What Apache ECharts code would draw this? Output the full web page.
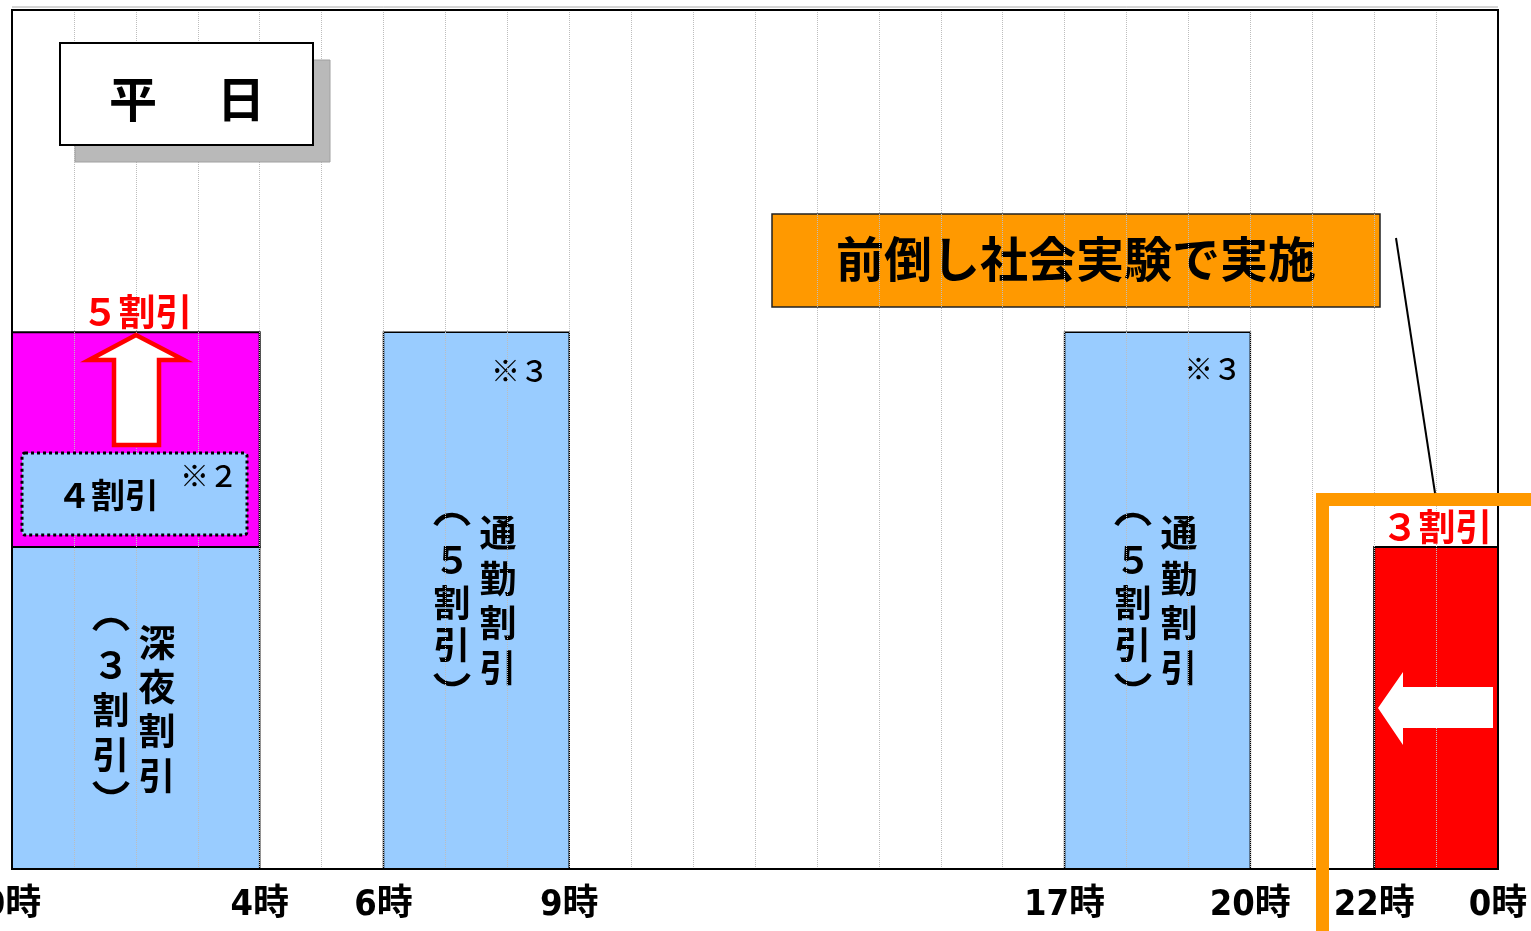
<!DOCTYPE html>
<html>
<head>
<meta charset="utf-8">
<script src="https://cdn.jsdelivr.net/npm/echarts@6/dist/echarts.min.js"></script>
<style>html,body{margin:0;padding:0;background:#fff;}#c{width:1531px;height:931px;}</style>
</head>
<body>
<div id="c"></div>
<script>
// ---- data ----
const tickHours = [0, 4, 6, 9, 17, 20, 22, 24];
const redTickHours = [0, 4, 22, 24];
// current discount periods (light blue)
const currentStart = [0, 6, 17];
const currentEnd = [4, 9, 20];
const currentRate = [30, 50, 50];
// expanded discount (magenta) 0-4h : 30% -> 50%
const expandStart = [0];
const expandEnd = [4];
const expandFrom = [30];
const expandTo = [50];
// advanced trial (red) 22-24h
const trialStart = [22];
const trialEnd = [24];
const trialRate = [30];

const rateMax = 80;

function rows(s, e, lo, hi) {
  return s.map((v, i) => [v, e[i], lo[i], hi[i]]);
}
const zeros = a => a.map(() => 0);

function renderRect(params, api) {
  const p0 = api.coord([api.value(0), api.value(3)]);
  const p1 = api.coord([api.value(1), api.value(2)]);
  return {
    type: 'rect',
    shape: { x: p0[0], y: p0[1], width: p1[0] - p0[0], height: p1[1] - p0[1] },
    style: api.style()
  };
}

const JP = "'Noto Sans CJK JP', 'Noto Sans', sans-serif";
const chart = echarts.init(document.getElementById('c'));

// vertical paren drawn as an arc: '(' -> opening on bottom (cap), ')' -> opening on top (cup)
function vparen(x, y, open) {
  const r = 19;
  if (open) {
    return { type: 'arc', z: 2, shape: { cx: x, cy: y + 12, r: r, startAngle: Math.PI * 1.16, endAngle: Math.PI * 1.84, clockwise: true },
      style: { stroke: '#000', lineWidth: 4.5, fill: null, lineCap: 'butt' } };
  }
  return { type: 'arc', z: 2, shape: { cx: x, cy: y - 12, r: r, startAngle: Math.PI * 0.16, endAngle: Math.PI * 0.84, clockwise: true },
    style: { stroke: '#000', lineWidth: 4.5, fill: null, lineCap: 'butt' } };
}

function vcol(x, ys, chars) {
  return chars.map((ch, i) => {
    if (ch === '(') return vparen(x, ys[i], true);
    if (ch === ')') return vparen(x, ys[i], false);
    return {
      type: 'text', z: 2, x: x, y: ys[i],
      style: { text: ch, font: 'bold 37px ' + JP, fill: '#000', align: 'center', verticalAlign: 'middle' }
    };
  });
}

const graphics = [
  // faint line above frame
  { type: 'line', z: 1, shape: { x1: 12, y1: 7, x2: 1498, y2: 7 }, style: { stroke: '#aaa', lineWidth: 1 } },
  // 平日 box
  { type: 'rect', z: 10, shape: { x: 75, y: 60, width: 255, height: 102 }, style: { fill: '#b9b9b9', stroke: '#a0a0a0', lineWidth: 1 } },
  { type: 'rect', z: 11, shape: { x: 60, y: 43, width: 253, height: 102 }, style: { fill: '#fff', stroke: '#000', lineWidth: 2 } },
  { type: 'text', z: 12, x: 133, y: 99, style: { text: '平', font: 'bold 48px ' + JP, fill: '#000', align: 'center', verticalAlign: 'middle' } },
  { type: 'text', z: 12, x: 241, y: 99, style: { text: '日', font: 'bold 48px ' + JP, fill: '#000', align: 'center', verticalAlign: 'middle' } },
  // orange note box
  { type: 'rect', z: 2, shape: { x: 772, y: 214, width: 608, height: 93 }, style: { fill: '#FF9900', stroke: '#222', lineWidth: 1.5 } },
  { type: 'text', z: 2, x: 1076, y: 259, style: { text: '前倒し社会実験で実施', font: 'bold 48px ' + JP, fill: '#000', align: 'center', verticalAlign: 'middle' } },
  // callout line
  { type: 'line', z: 10, shape: { x1: 1396, y1: 238, x2: 1435, y2: 493 }, style: { stroke: '#000', lineWidth: 2 } },
  // orange frame around 22-24
  { type: 'rect', z: 9, shape: { x: 1322.5, y: 499.5, width: 300, height: 600 }, style: { fill: null, stroke: '#FF9900', lineWidth: 13 } },
  // 5割引
  { type: 'text', z: 10, x: 137, y: 312, style: { text: '５割引', font: 'bold 37px ' + JP, fill: '#FF0000', align: 'center', verticalAlign: 'middle' } },
  // up arrow
  { type: 'polygon', z: 10, shape: { points: [[136, 335], [89, 360], [114, 360], [114, 445], [159, 445], [159, 360], [184, 360]] }, style: { fill: '#fff', stroke: '#FF0000', lineWidth: 4.5, lineJoin: 'miter' } },
  // 4割引 dotted box
  { type: 'rect', z: 10, shape: { x: 22, y: 453, width: 225, height: 82, r: 3 }, style: { fill: '#99CCFF', stroke: '#000', lineWidth: 3, lineDash: [3, 3] } },
  { type: 'text', z: 11, x: 108, y: 495, style: { text: '４割引', font: 'bold 34px ' + JP, fill: '#000', align: 'center', verticalAlign: 'middle' } },
  { type: 'text', z: 11, x: 209, y: 476, style: { text: '※２', font: '500 29px ' + JP, fill: '#000', align: 'center', verticalAlign: 'middle' } },
  // ※3 marks
  { type: 'text', z: 2, x: 520, y: 371, style: { text: '※３', font: '500 29px ' + JP, fill: '#000', align: 'center', verticalAlign: 'middle' } },
  { type: 'text', z: 2, x: 1213, y: 369, style: { text: '※３', font: '500 29px ' + JP, fill: '#000', align: 'center', verticalAlign: 'middle' } },
  // 3割引
  { type: 'text', z: 10, x: 1437, y: 527, style: { text: '３割引', font: 'bold 37px ' + JP, fill: '#FF0000', align: 'center', verticalAlign: 'middle' } },
  // left arrow
  { type: 'polygon', z: 10, shape: { points: [[1378, 708], [1403, 672], [1403, 687], [1493, 687], [1493, 728], [1403, 728], [1403, 745]] }, style: { fill: '#fff', stroke: null } }
]
  .concat(vcol(157, [643, 687, 731, 776], ['深', '夜', '割', '引']))
  .concat(vcol(111, [627, 665, 710, 755, 785], ['(', '３', '割', '引', ')']))
  .concat(vcol(498, [533, 579, 623, 668], ['通', '勤', '割', '引']))
  .concat(vcol(452, [522, 560, 603, 645, 677], ['(', '５', '割', '引', ')']))
  .concat(vcol(1179, [533, 579, 623, 668], ['通', '勤', '割', '引']))
  .concat(vcol(1133, [522, 560, 603, 645, 677], ['(', '５', '割', '引', ')']));

chart.setOption({
  animation: false,
  backgroundColor: '#fff',
  grid: { left: 12, right: 33, top: 10, bottom: 62, containLabel: false, outerBoundsMode: 'none', show: true, borderColor: '#000', borderWidth: 2, backgroundColor: 'transparent', z: 4 },
  xAxis: {
    type: 'value', min: 0, max: 24, interval: 1, z: 3,
    axisLine: { show: true, lineStyle: { color: '#000', width: 2 } },
    axisTick: { show: false },
    splitLine: { show: true, lineStyle: { color: '#bdbdbd', width: 1, type: 'dotted' } },
    axisLabel: {
      margin: 19, showMinLabel: true, showMaxLabel: true, hideOverlap: false,
      fontSize: 36, fontWeight: 'bold',
      fontFamily: "'Liberation Sans Narrow', 'DejaVu Sans Condensed', 'Noto Sans CJK JP', sans-serif",
      formatter: v => tickHours.indexOf(v) >= 0 ? (v % 24) + '時' : '',
      color: v => redTickHours.indexOf(v) >= 0 ? '#FF0000' : '#000'
    }
  },
  yAxis: { type: 'value', min: 0, max: rateMax, show: false, splitLine: { show: false } },
  series: [
    {
      type: 'custom', name: '現行', z: 1, renderItem: renderRect,
      encode: { x: [0, 1], y: [2, 3] },
      itemStyle: { color: '#99CCFF', borderColor: '#000', borderWidth: 1.5 },
      data: rows(currentStart, currentEnd, zeros(currentRate), currentRate)
    },
    {
      type: 'custom', name: '拡大', z: 1, renderItem: renderRect,
      encode: { x: [0, 1], y: [2, 3] },
      itemStyle: { color: '#FF00FF', borderColor: '#000', borderWidth: 2 },
      data: rows(expandStart, expandEnd, expandFrom, expandTo)
    },
    {
      type: 'custom', name: '前倒し', z: 1, renderItem: renderRect,
      encode: { x: [0, 1], y: [2, 3] },
      itemStyle: { color: '#FF0000', borderColor: '#000', borderWidth: 2 },
      data: rows(trialStart, trialEnd, zeros(trialRate), trialRate)
    }
  ],
  graphic: graphics
});
</script>
</body>
</html>
